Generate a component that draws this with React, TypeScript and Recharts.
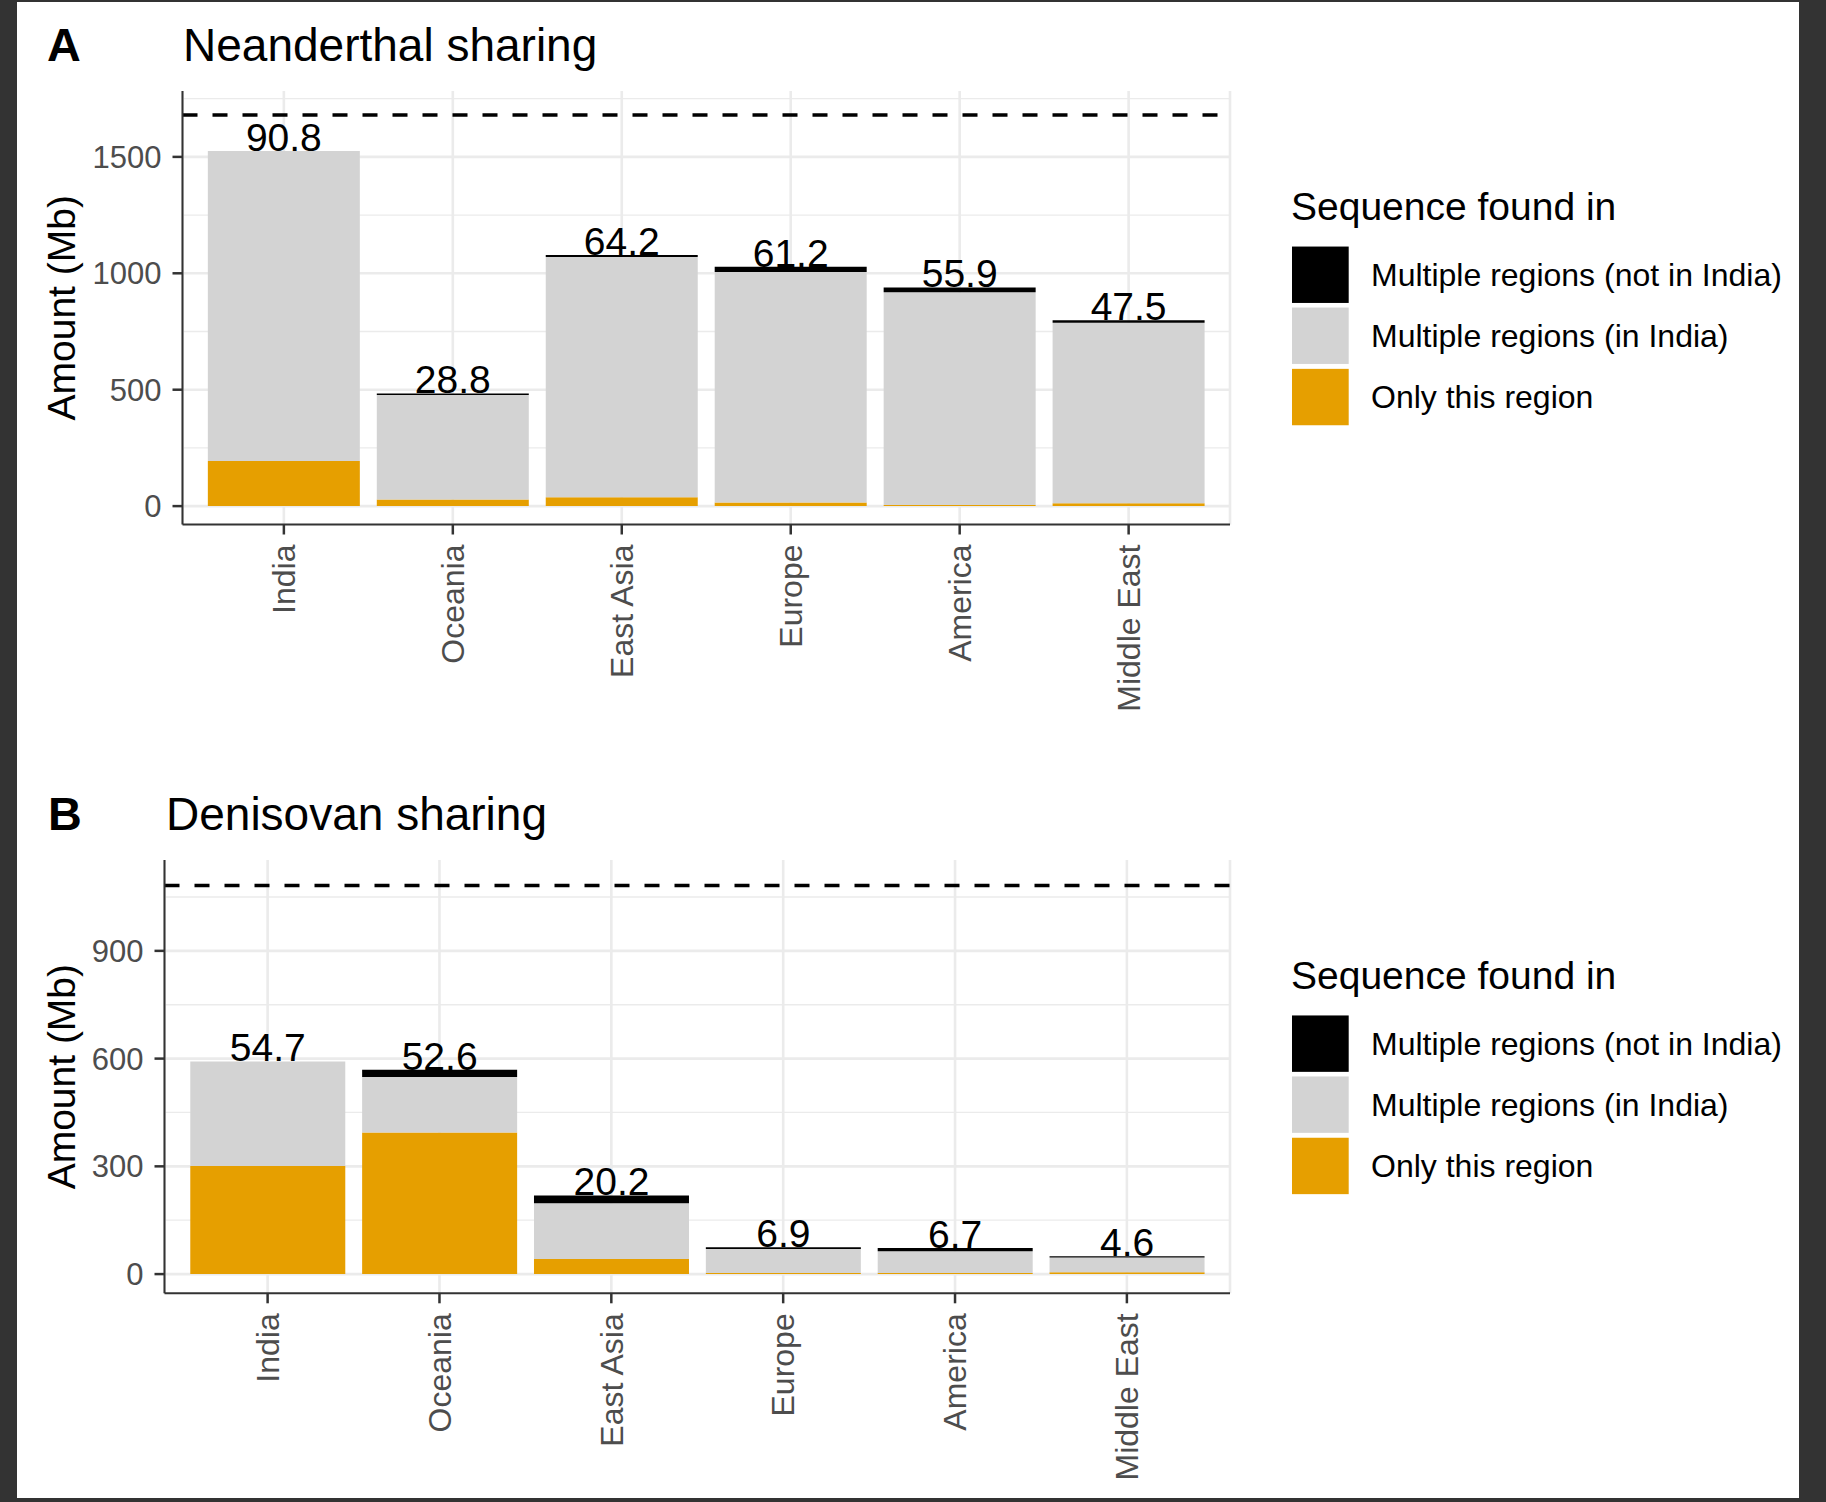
import React from "react";
import { BarChart, Bar, XAxis, YAxis, CartesianGrid, ReferenceLine, LabelList } from "recharts";

const FONT = "'Liberation Sans', Arial, Helvetica, sans-serif";

const regions = ["India", "Oceania", "East Asia", "Europe", "America", "Middle East"];

// Panel A: Neanderthal sharing (Mb)
const neaOnlyThis = [194, 28, 38, 15, 5, 12];
const neaInIndia = [1331, 449, 1032, 991, 914, 776];
const neaNotInIndia = [0, 7, 9, 22, 20, 10];
const neaPercent = [90.8, 28.8, 64.2, 61.2, 55.9, 47.5];
const neaTotal = 1680;
const neaTicks = [0, 500, 1000, 1500];
const neaMinor = [250, 750, 1250, 1750];
const neaDomain = [-79, 1783];

// Panel B: Denisovan sharing (Mb)
const denOnlyThis = [301, 394, 42, 3, 3, 5];
const denInIndia = [291, 155, 155, 67, 60.5, 41];
const denNotInIndia = [0, 20, 22, 5, 9, 4];
const denPercent = [54.7, 52.6, 20.2, 6.9, 6.7, 4.6];
const denTotal = 1082;
const denTicks = [0, 300, 600, 900];
const denMinor = [150, 450, 750, 1050];
const denDomain = [-53.5, 1153];

const legendTitle = "Sequence found in";
const legendLabels = ["Multiple regions (not in India)", "Multiple regions (in India)", "Only this region"];
const legendColors = ["#000000", "#D3D3D3", "#E69F00"];

const buildRows = (only: number[], inIndia: number[], notIn: number[], pct: number[]) =>
  regions.map((r, i) => ({
    region: r,
    only: only[i],
    inIndia: inIndia[i],
    notIn: notIn[i],
    sum: only[i] + inIndia[i] + notIn[i],
    pct: pct[i],
  }));

const neaRows = buildRows(neaOnlyThis, neaInIndia, neaNotInIndia, neaPercent);
const denRows = buildRows(denOnlyThis, denInIndia, denNotInIndia, denPercent);

const XTick = (props: any) => {
  const { x, y, payload } = props;
  return (
    <text
      x={x}
      y={y}
      transform={`rotate(-90, ${x}, ${y})`}
      textAnchor="end"
      dy="0.35em"
      fontSize={32}
      fill="#4D4D4D"
      fontFamily={FONT}
    >
      {payload.value}
    </text>
  );
};

const PctLabel = (props: any) => {
  const vb = props.viewBox && props.viewBox.x !== undefined ? props.viewBox : props;
  const x = Number(vb.x);
  const y = Number(vb.y);
  const w = Number(vb.width);
  return (
    <text x={x + w / 2} y={y} textAnchor="middle" fontSize={39} fill="#000" fontFamily={FONT}>
      {Number(props.value).toFixed(1)}
    </text>
  );
};

type PanelProps = {
  top: number;
  width: number;
  height: number;
  margin: { top: number; right: number; bottom: number; left: number };
  yWidth: number;
  xHeight: number;
  data: any[];
  ticks: number[];
  minor: number[];
  domain: number[];
  total: number;
};

const Panel = ({ top, width, height, margin, yWidth, xHeight, data, ticks, minor, domain, total }: PanelProps) => {
  const plotW = width - margin.left - margin.right - yWidth;
  const pad = plotW / 62;
  const frame = { stroke: "#333333", strokeWidth: 2 };
  const tl = { stroke: "#333333", strokeWidth: 2.5 };
  return (
    <div style={{ position: "absolute", left: 0, top }}>
      <BarChart width={width} height={height} data={data} margin={margin} barCategoryGap="5%">
        <CartesianGrid stroke="#EBEBEB" strokeWidth={1.3} vertical={false} horizontalValues={minor} />
        <CartesianGrid stroke="#EBEBEB" strokeWidth={2.6} horizontalValues={ticks} />
        <XAxis
          dataKey="region"
          type="category"
          padding={{ left: pad, right: pad }}
          interval={0}
          tickSize={10}
          tickMargin={10}
          tickLine={tl}
          axisLine={frame}
          tick={<XTick />}
          height={xHeight}
        />
        <XAxis
          xAxisId="top"
          orientation="top"
          dataKey="region"
          type="category"
          padding={{ left: pad, right: pad }}
          height={0}
          tick={false}
          tickLine={false}
          axisLine={frame}
        />
        <YAxis
          type="number"
          domain={domain}
          allowDataOverflow
          ticks={ticks}
          interval={0}
          width={yWidth}
          tickSize={10}
          tickMargin={11}
          tickLine={tl}
          axisLine={frame}
          tick={{ fontSize: 31, fill: "#4D4D4D", fontFamily: FONT }}
        />
        <YAxis
          yAxisId="right"
          orientation="right"
          type="number"
          domain={domain}
          allowDataOverflow
          width={0}
          tick={false}
          tickLine={false}
          axisLine={frame}
        />
        <Bar dataKey="only" stackId="s" fill="#E69F00" isAnimationActive={false} />
        <Bar dataKey="inIndia" stackId="s" fill="#D3D3D3" isAnimationActive={false} />
        <Bar dataKey="notIn" stackId="s" fill="#000000" isAnimationActive={false} />
        <Bar xAxisId="top" dataKey="sum" fill="none" stroke="none" isAnimationActive={false}>
          <LabelList dataKey="pct" content={PctLabel} />
        </Bar>
        <ReferenceLine y={total} stroke="#000" strokeWidth={3.5} strokeDasharray="15 15" />
      </BarChart>
    </div>
  );
};

const Legend = ({ center }: { center: number }) => {
  const keyCenters = [center - 33, center + 28, center + 89.3];
  return (
    <g fontFamily={FONT}>
      <text x={1291} y={center - 87.7} fontSize={39} fill="#000">
        {legendTitle}
      </text>
      {legendLabels.map((lab, i) => (
        <g key={lab}>
          <rect x={1292} y={keyCenters[i] - 28.2} width={56.7} height={56.4} fill={legendColors[i]} />
          <text x={1371} y={keyCenters[i] + 11} fontSize={32} fill="#000">
            {lab}
          </text>
        </g>
      ))}
    </g>
  );
};

const Heading = ({ tag, title, tagX, titleX, baseline }: any) => (
  <g fontFamily={FONT} fill="#000">
    <text x={tagX} y={baseline} fontSize={46.8} fontWeight="bold">
      {tag}
    </text>
    <text x={titleX} y={baseline} fontSize={46}>
      {title}
    </text>
  </g>
);

const YTitle = ({ center }: { center: number }) => (
  <text
    transform={`translate(75, ${center}) rotate(-90)`}
    textAnchor="middle"
    fontSize={39}
    fill="#000"
    fontFamily={FONT}
  >
    Amount (Mb)
  </text>
);

export default function App() {
  const aMargin = { top: 91, right: 70, bottom: 25.5, left: 0 };
  const bMargin = { top: 90, right: 70, bottom: 16.7, left: 0 };
  const aCenter = (91 + 524.5) / 2;
  const bCenter = (860 + 1293.3) / 2;
  return (
    <div style={{ position: "absolute", left: 0, top: 0, width: 1826, height: 1502, background: "#333333" }}>
      <div style={{ position: "absolute", left: 17, top: 2, width: 1782, height: 1496, background: "#FFFFFF" }} />
      <Panel
        top={0}
        width={1300}
        height={760}
        margin={aMargin}
        yWidth={182.5}
        xHeight={210}
        data={neaRows}
        ticks={neaTicks}
        minor={neaMinor}
        domain={neaDomain}
        total={neaTotal}
      />
      <Panel
        top={770}
        width={1300}
        height={730}
        margin={bMargin}
        yWidth={164.5}
        xHeight={190}
        data={denRows}
        ticks={denTicks}
        minor={denMinor}
        domain={denDomain}
        total={denTotal}
      />
      <svg
        width={1826}
        height={1502}
        style={{ position: "absolute", left: 0, top: 0, pointerEvents: "none" }}
      >
        <Heading tag="A" title="Neanderthal sharing" tagX={47} titleX={183} baseline={61} />
        <Heading tag="B" title="Denisovan sharing" tagX={48} titleX={166} baseline={829.6} />
        <YTitle center={aCenter} />
        <YTitle center={bCenter} />
        <Legend center={aCenter} />
        <Legend center={bCenter} />
      </svg>
    </div>
  );
}
